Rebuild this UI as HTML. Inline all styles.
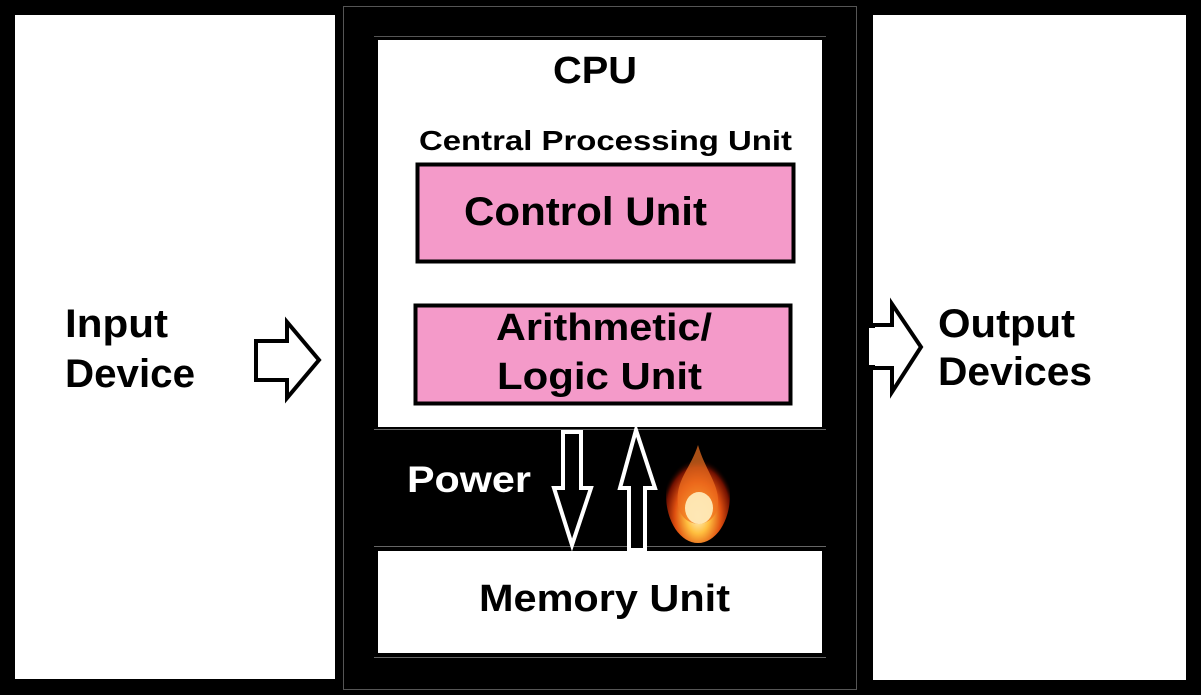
<!DOCTYPE html>
<html><head><meta charset="utf-8"><style>
html,body{margin:0;padding:0;background:#000;}
svg{display:block;}
text{font-family:"Liberation Sans",Arial,sans-serif;font-weight:bold;}
</style></head><body>
<svg width="1201" height="695" viewBox="0 0 1201 695" xmlns="http://www.w3.org/2000/svg">
<defs>
<radialGradient id="fl" cx="0.5" cy="0.72" r="0.6">
<stop offset="0" stop-color="#fff6d0"/>
<stop offset="0.3" stop-color="#ffc040"/>
<stop offset="0.6" stop-color="#e05010"/>
<stop offset="0.85" stop-color="#701000"/>
<stop offset="1" stop-color="#000" stop-opacity="0"/>
</radialGradient>
</defs>
<rect width="1201" height="695" fill="#000"/>
<!-- side panels -->
<rect x="15" y="15" width="320" height="664" fill="#fff"/>
<rect x="873" y="15" width="313" height="665" fill="#fff"/>
<!-- CPU outer thin border -->
<rect x="343.5" y="6.5" width="513" height="683" fill="none" stroke="#555" stroke-width="1"/>
<!-- CPU inner -->
<rect x="378" y="40" width="444" height="387" fill="#fff"/>
<line x1="374" y1="36.5" x2="826" y2="36.5" stroke="#555"/>
<line x1="374" y1="429.5" x2="826" y2="429.5" stroke="#666"/>
<line x1="374" y1="546.5" x2="826" y2="546.5" stroke="#666"/>
<line x1="374" y1="657.5" x2="826" y2="657.5" stroke="#666"/>
<rect x="378" y="551" width="444" height="102" fill="#fff"/>
<!-- pink boxes -->
<rect x="417.5" y="164.5" width="376" height="97" fill="#f49ac9" stroke="#000" stroke-width="4"/>
<rect x="415.5" y="305.5" width="375" height="98" fill="#f49ac9" stroke="#000" stroke-width="4"/>
<text x="553" y="83" font-size="38" textLength="84" lengthAdjust="spacingAndGlyphs">CPU</text>
<text x="419" y="150" font-size="28" textLength="373" lengthAdjust="spacingAndGlyphs">Central Processing Unit</text>
<text x="464" y="225" font-size="40" textLength="243" lengthAdjust="spacingAndGlyphs">Control Unit</text>
<text x="496" y="340" font-size="38" textLength="216" lengthAdjust="spacingAndGlyphs">Arithmetic/</text>
<text x="497" y="389" font-size="38" textLength="205" lengthAdjust="spacingAndGlyphs">Logic Unit</text>
<text x="407" y="492" font-size="37" fill="#fff" textLength="124" lengthAdjust="spacingAndGlyphs">Power</text>
<text x="479" y="611" font-size="38" textLength="251" lengthAdjust="spacingAndGlyphs">Memory Unit</text>
<text x="65" y="337" font-size="40" textLength="103" lengthAdjust="spacingAndGlyphs">Input</text>
<text x="65" y="387" font-size="40" textLength="130" lengthAdjust="spacingAndGlyphs">Device</text>
<text x="938" y="337" font-size="40" textLength="137" lengthAdjust="spacingAndGlyphs">Output</text>
<text x="938" y="385" font-size="40" textLength="154" lengthAdjust="spacingAndGlyphs">Devices</text>
<!-- input arrow -->
<polygon points="256,341 287,341 287,322 319,360 287,398 287,380 256,380" fill="#fff" stroke="#000" stroke-width="4" stroke-linejoin="miter"/>
<!-- output arrow -->
<polygon points="873,325 892,325 892,304 921,347 892,392 892,368 873,368" fill="#fff" stroke="#000" stroke-width="4"/>
<rect x="869" y="328" width="6" height="37" fill="#fff"/>
<!-- down arrow -->
<polygon points="563,432 581,432 581,488 591,488 572,545 554,488 563,488" fill="#000" stroke="#fff" stroke-width="4"/>
<!-- up arrow -->
<polygon points="636,430 655,488 645,488 645,550 629,550 629,488 620,488" fill="#000" stroke="#fff" stroke-width="4"/>
<!-- flame -->
<ellipse cx="698" cy="495" rx="32" ry="48" fill="url(#fl)"/>
<path d="M698,445 C690,470 675,480 678,505 C682,530 715,530 718,505 C720,485 705,470 698,445 Z" fill="#f07020" opacity="0.7"/>
<ellipse cx="699" cy="508" rx="14" ry="16" fill="#fff0c0" opacity="0.9"/>
</svg>
</body></html>
